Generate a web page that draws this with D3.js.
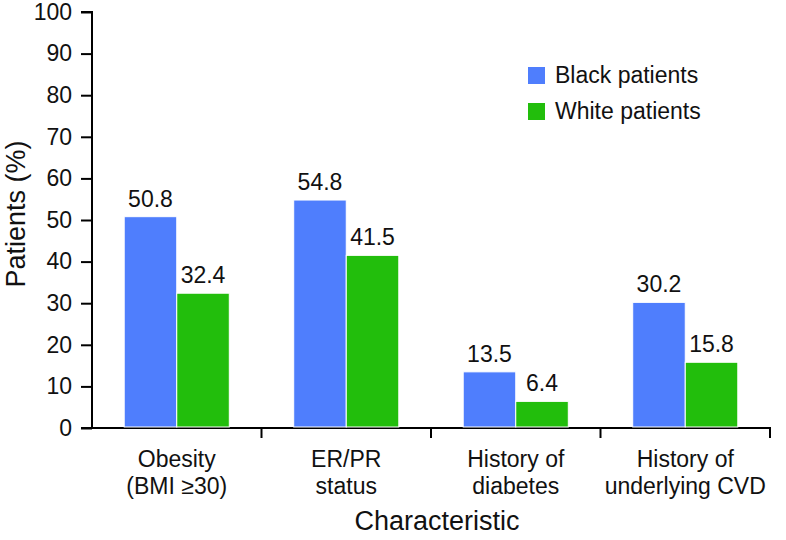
<!DOCTYPE html>
<html>
<head>
<meta charset="utf-8">
<script src="https://cdn.jsdelivr.net/npm/d3@7"></script>
<style>
  html, body { margin: 0; padding: 0; background: #fff; }
  svg { display: block; font-family: "Liberation Sans", Arial, Helvetica, sans-serif; }
</style>
</head>
<body>
<svg id="chart" width="786" height="540"></svg>
<script>
const categories = [["Obesity", "(BMI \u226530)"], ["ER/PR", "status"], ["History of", "diabetes"], ["History of", "underlying CVD"]];
const seriesNames = ["Black patients", "White patients"];
const blackValues = [50.8, 54.8, 13.5, 30.2];
const whiteValues = [32.4, 41.5, 6.4, 15.8];
const yTicks = [0, 10, 20, 30, 40, 50, 60, 70, 80, 90, 100];
const colors = ["#4F7EFD", "#22BE0C"];

const svg = d3.select("#chart");
const mLeft = 92, mRight = 770, mTop = 12, mBottom = 428;
const fs = 23;

const x = d3.scaleBand().domain(d3.range(categories.length)).range([mLeft, mRight]).padding(0);
const step = x.step();
const xs = d3.scaleBand().domain([0, 1]).range([step * 0.19, step * 0.81]).padding(0);
const y = d3.scaleLinear().domain([0, 100]).range([mBottom, mTop]);

// Y axis
const yAxis = d3.axisLeft(y).tickValues(yTicks).tickSize(11).tickPadding(9).tickFormat(d3.format("d"));
const gy = svg.append("g").attr("transform", `translate(${mLeft},0)`).call(yAxis);
gy.select(".domain").attr("stroke", "#000").attr("stroke-width", 2).attr("d", `M-11,${mTop}H0V${mBottom}`);
gy.selectAll(".tick line").attr("stroke", "#000").attr("stroke-width", 2);
gy.selectAll(".tick text").attr("font-size", fs).attr("fill", "#111")
  .attr("font-family", "'Liberation Sans', Arial, sans-serif");

// X axis baseline and category boundary ticks
svg.append("line").attr("x1", mLeft - 11).attr("x2", mRight + 1).attr("y1", mBottom).attr("y2", mBottom)
  .attr("stroke", "#000").attr("stroke-width", 2);
const boundaries = categories.map((c, i) => x(i) + step);
svg.selectAll(".xtick").data(boundaries).enter().append("line")
  .attr("x1", d => d).attr("x2", d => d).attr("y1", mBottom).attr("y2", mBottom + 10)
  .attr("stroke", "#000").attr("stroke-width", 2);

// Bars
const data = categories.map((c, i) => ({ i, vals: [blackValues[i], whiteValues[i]] }));
const groups = svg.selectAll(".grp").data(data).enter().append("g")
  .attr("transform", d => `translate(${x(d.i)},0)`);
groups.selectAll("rect").data(d => d.vals.map((v, s) => ({ v, s }))).enter().append("rect")
  .attr("x", d => xs(d.s))
  .attr("width", xs.bandwidth())
  .attr("y", d => y(d.v))
  .attr("height", d => mBottom - 1 - y(d.v))
  .attr("fill", d => colors[d.s])
  .attr("stroke", "#fff").attr("stroke-width", 1);
groups.selectAll("text.val").data(d => d.vals.map((v, s) => ({ v, s }))).enter().append("text")
  .attr("class", "val")
  .attr("x", d => xs(d.s) + xs.bandwidth() / 2)
  .attr("y", d => y(d.v) - 10)
  .attr("text-anchor", "middle")
  .attr("font-size", fs).attr("fill", "#111")
  .text(d => d3.format(".1f")(d.v));

// Category labels
const catG = svg.selectAll(".cat").data(categories).enter().append("text")
  .attr("text-anchor", "middle").attr("font-size", fs).attr("fill", "#111")
  .attr("transform", (d, i) => `translate(${x(i) + step / 2},467)`);
catG.selectAll("tspan").data(d => d).enter().append("tspan")
  .attr("x", 0).attr("dy", (d, j) => j === 0 ? 0 : 27).text(d => d);

// Axis titles
svg.append("text").attr("x", 437).attr("y", 530).attr("text-anchor", "middle")
  .attr("font-size", 27).attr("fill", "#111").text("Characteristic");
svg.append("text").attr("transform", `translate(25,214) rotate(-90)`)
  .attr("text-anchor", "middle").attr("font-size", 27).attr("fill", "#111").text("Patients (%)");

// Legend
const leg = svg.selectAll(".leg").data(seriesNames).enter().append("g")
  .attr("transform", (d, i) => `translate(528,${67 + i * 36})`);
leg.append("rect").attr("width", 17).attr("height", 17).attr("fill", (d, i) => colors[i]);
leg.append("text").attr("x", 27).attr("y", 16).attr("font-size", fs).attr("fill", "#111").text(d => d);
</script>
</body>
</html>
